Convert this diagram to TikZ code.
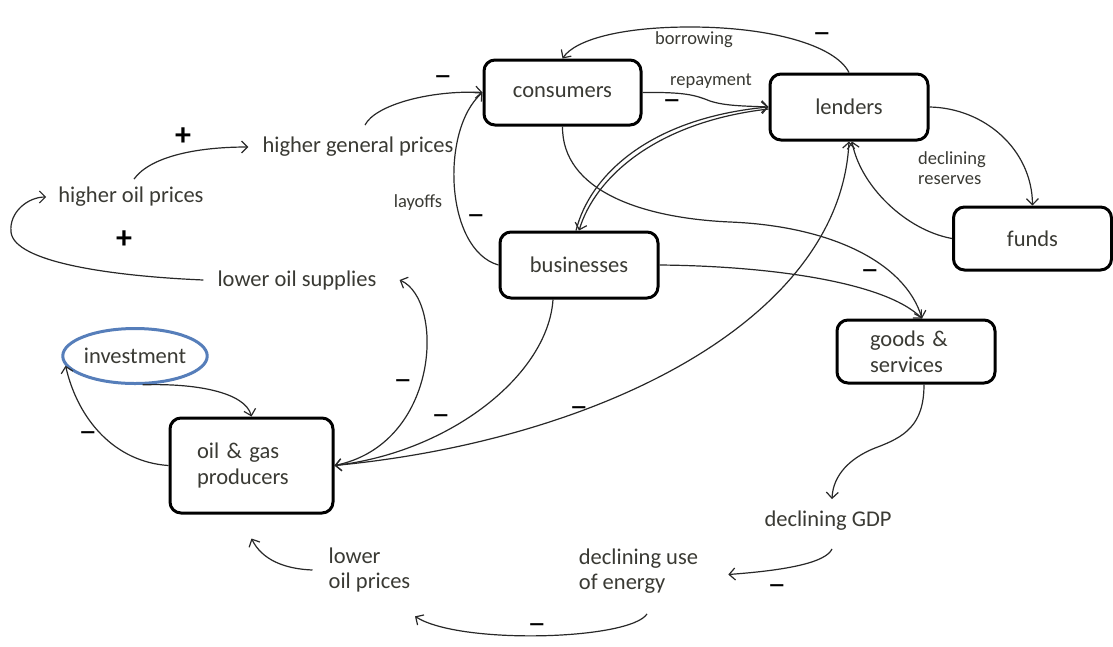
\documentclass[tikz,border=0pt]{standalone}
\usepackage{fontspec}
\usepackage{graphicx}
\setmainfont{Carlito}
\usetikzlibrary{arrows.meta,shapes.geometric}
\definecolor{txt}{RGB}{58,58,52}
\definecolor{ln}{RGB}{40,40,40}
\definecolor{invblue}{RGB}{86,126,186}
\newcommand{\mns}{\scalebox{1.55}[1]{\fontsize{24}{24}\bfseries\selectfont –}}
\begin{document}
\begin{tikzpicture}[x=1pt,y=-1pt,
  box/.style={draw=black,line width=3pt,rounded corners=11pt,text=txt,
    font=\fontsize{22.5}{26}\selectfont,align=center,inner sep=0pt},
  lbl/.style={text=txt,font=\fontsize{22.5}{25}\selectfont,inner sep=2pt},
  small/.style={text=txt,font=\fontsize{18.5}{20}\selectfont,inner sep=1pt},
  sgn/.style={text=black,font=\fontsize{32}{32}\bfseries\selectfont,inner sep=0pt},
  conn/.style={draw=ln,line width=1.2pt,-{Straight Barb[length=6pt,width=12pt,line width=1.2pt]}},
  conn2/.style={draw=ln,line width=1.2pt,{Straight Barb[length=6pt,width=12pt,line width=1.2pt]}-{Straight Barb[length=6pt,width=12pt,line width=1.2pt]}},
]
\useasboundingbox (0,0) rectangle (1113,646);
\fill[white] (0,0) rectangle (1113,646);

% boxes
\node[box,minimum width=157pt,minimum height=65pt] (cons) at (562.5,92.5) {consumers};
\node[box,minimum width=158pt,minimum height=66pt] (lend) at (849,107) {lenders};
\node[box,minimum width=158pt,minimum height=63pt] (funds) at (1032.5,238.5) {funds};
\node[box,minimum width=158pt,minimum height=66pt] (bus) at (579,265) {businesses};
\node[box,minimum width=158pt,minimum height=63pt,text width=92pt,inner xsep=33pt,align=left] (goods) at (916,351.5) {goods \&\\services};
\node[box,minimum width=163pt,minimum height=95pt,text width=109pt,inner xsep=27pt,align=left] (oilgas) at (251.5,465.5) {oil \& gas\\producers};
\node[ellipse,draw=invblue,line width=3pt,minimum width=134pt,minimum height=55pt,inner sep=0pt,text=txt,font=\fontsize{22.5}{26}\selectfont] (inv) at (135,356) {investment};

% text nodes
\node[lbl] (hop) at (131,197) {higher oil prices};
\node[lbl] (hgp) at (358,147) {higher general prices};
\node[lbl] (los) at (297,280) {lower oil supplies};
\node[lbl,align=left] (lop) at (369.5,570) {lower\\oil prices};
\node[lbl,align=left] (duse) at (638.5,571.5) {declining use\\of energy};
\node[lbl] (gdp) at (828,521) {declining GDP};

% small labels
\node[small] (borrow) at (694,40) {borrowing};
\node[small] (repay) at (711,81) {repayment};
\node[small] (layoff) at (418,203) {layoffs};
\node[small,align=left] (reserves) at (952,168) {declining\\reserves};

% signs
\node[sgn] (p1) at (183,137) {+};
\node[sgn] (p2) at (124,240) {+};
\node[sgn] (m1) at (443,80) {\mns};
\node[sgn] (m2) at (672,104) {\mns};
\node[sgn] (m3) at (822,37) {\mns};
\node[sgn] (m4) at (476,219) {\mns};
\node[sgn] (m5) at (870,274) {\mns};
\node[sgn] (m6) at (403,384) {\mns};
\node[sgn] (m7) at (441,419) {\mns};
\node[sgn] (m8) at (579,411) {\mns};
\node[sgn] (m9) at (88,436) {\mns};
\node[sgn] (m10) at (777,589) {\mns};
\node[sgn] (m11) at (537,628) {\mns};

% connectors
\draw[conn] ([xshift=3pt,yshift=6pt]hop.north) .. controls (150,157) and (195,147) .. ([xshift=-12pt]hgp.west);
\draw[conn] ([xshift=-12pt]los.west) .. controls (110,276) and (14,262) .. (11,232) .. controls (9,212) and (28,197) .. ([xshift=-10pt]hop.west);
\draw[conn] ([xshift=7pt,yshift=10pt]hgp.north) .. controls (375,105) and (430,90) .. (cons.west);
\draw[conn] (bus.west) .. controls (445,250) and (440,130) .. (cons.west);
\draw[conn] (cons.east) .. controls (685,92) and (695,95) .. (710,101) .. controls (725,106) and (745,106) .. (lend.west);
\draw[conn] (lend.north) .. controls (835,45) and (770,27) .. (690,27) .. controls (620,27) and (575,40) .. (cons.north);
\draw[conn] ([xshift=-3pt]bus.north) .. controls (590,175) and (650,118) .. (lend.west);
\draw[conn] ([yshift=-2pt]lend.west) .. controls (655,122) and (595,178) .. (bus.north);
\draw[conn] (cons.south) .. controls (562,190) and (640,218) .. (730,222) .. controls (830,226) and (905,262) .. ([xshift=6pt]goods.north);
\draw[conn] (bus.east) .. controls (770,266) and (885,282) .. ([xshift=6pt]goods.north);
\draw[conn] ([xshift=-26pt]bus.south) .. controls (548,375) and (450,452) .. (oilgas.east);
\draw[conn2] (oilgas.east) .. controls (600,440) and (840,320) .. (lend.south);
\draw[conn] (oilgas.east) .. controls (440,445) and (445,300) .. ([xshift=21pt]los.east);
\draw[conn] (lend.east) .. controls (985,108) and (1032,150) .. (funds.north);
\draw[conn] (funds.west) .. controls (905,230) and (860,185) .. ([xshift=3pt]lend.south);
\draw[conn] (inv.-75) .. controls (195,383) and (245,392) .. (oilgas.north);
\draw[conn] (oilgas.west) .. controls (115,462) and (78,420) .. (inv.188);
\draw[conn] ([xshift=8pt]goods.south) .. controls (924,425) and (905,437) .. (875,448) .. controls (850,458) and (833,475) .. ([xshift=4pt,yshift=10pt]gdp.north);
\draw[conn] ([xshift=4pt,yshift=-16pt]gdp.south) .. controls (826,562) and (790,570) .. ([xshift=28pt,yshift=-3pt]duse.east);
\draw[conn] ([xshift=8.5pt,yshift=-18pt]duse.south) .. controls (630,640) and (460,645) .. ([xshift=45.5pt,yshift=-22pt]lop.south);
\draw[conn] ([xshift=-14pt]lop.west) .. controls (285,569) and (262,560) .. ([yshift=-24pt]oilgas.south);
\end{tikzpicture}
\end{document}
